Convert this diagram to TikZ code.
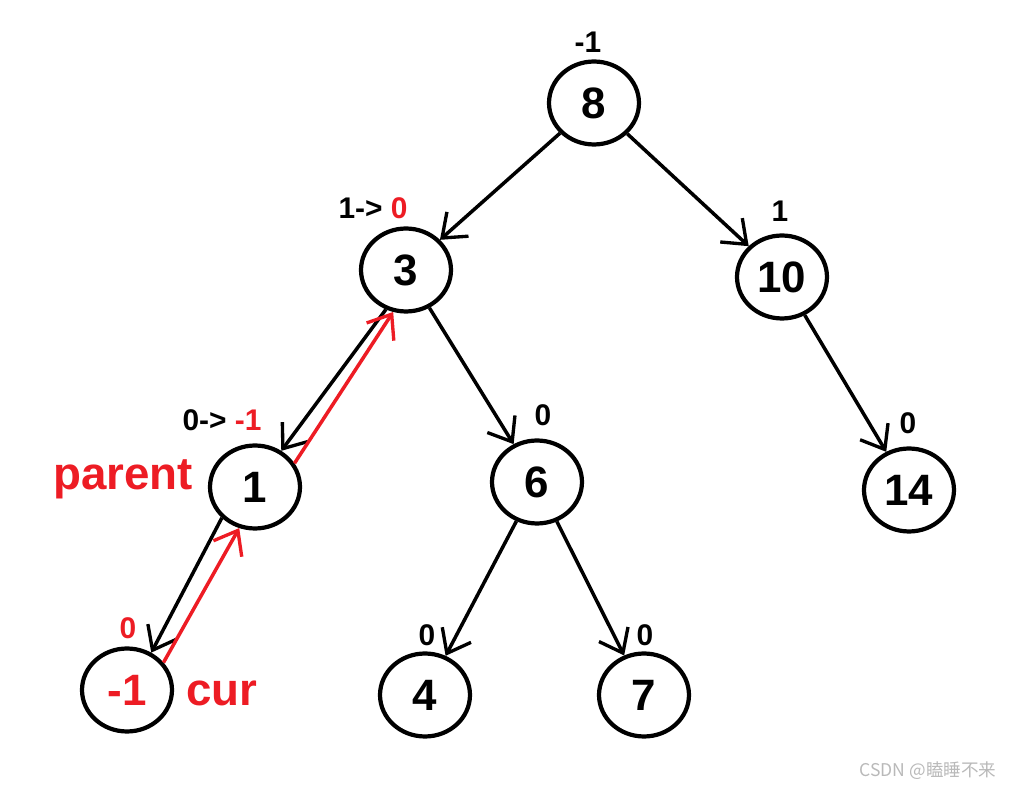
\documentclass[tikz,border=0pt]{standalone}
\usepackage{fontspec}
\setmainfont{Liberation Sans}
\newfontfamily\cjkfont{Noto Sans CJK SC}
\usetikzlibrary{arrows.meta, shapes.geometric}
\definecolor{markred}{RGB}{237,28,36}
\definecolor{wmgray}{RGB}{185,185,185}
\tikzset{
  treenode/.style={
    ellipse, draw=black, line width=2.4pt,
    minimum width=1.8cm, minimum height=1.66cm, inner sep=0pt,
    font=\fontsize{25}{25}\selectfont\bfseries
  },
  edgearrow/.style={
    -{Straight Barb[length=4.2mm, width=6.5mm, line width=1.9pt]},
    draw=black, line width=2pt
  },
  backarrow/.style={edgearrow, draw=markred},
  balancelabel/.style={font=\fontsize{17}{17}\selectfont\bfseries, inner sep=0pt},
  redword/.style={text=markred, font=\fontsize{26}{26}\selectfont\bfseries, inner sep=0pt}
}

\begin{document}
\begin{tikzpicture}[x=0.02cm, y=-0.02cm]
  \useasboundingbox (0,0) rectangle (1009,790);

  % tree nodes
  \node[treenode] (n8)  at (594,103) {8};
  \node[treenode] (n3)  at (406,270) {3};
  \node[treenode] (n10) at (782,277) {10};
  \node[treenode] (n1)  at (255,487) {1};
  \node[treenode] (n6)  at (537,482) {6};
  \node[treenode] (n14) at (909,490) {14};
  \node[treenode, text=markred] (nm1) at (127,690) {-1};
  \node[treenode] (n4)  at (425,695) {4};
  \node[treenode] (n7)  at (644,695) {7};

  % balance factors
  \node[balancelabel] (b8)  at (588,42)  {-1};
  \node[balancelabel] (b3)  at (373,208) {1-> \textcolor{markred}{0}};
  \node[balancelabel] (b10) at (780,211) {1};
  \node[balancelabel] (b1)  at (222,420) {0-> \textcolor{markred}{-1}};
  \node[balancelabel] (b6)  at (543,415) {0};
  \node[balancelabel] (b14) at (908,423) {0};
  \node[balancelabel, text=markred] (bm1) at (128,628) {0};
  \node[balancelabel] (b4)  at (427,635) {0};
  \node[balancelabel] (b7)  at (645,635) {0};

  \node[redword] (parent) at (123,479) {parent};
  \node[redword] (cur)    at (222,693) {cur};

  % edges
  \draw[edgearrow] (n8) -- (n3);
  \draw[edgearrow] (n8) -- (n10);
  \draw[edgearrow] (n3.243) -- (n1.54);
  \draw[edgearrow] (n3) -- (n6);
  \draw[edgearrow] (n10) -- (n14);
  \draw[edgearrow] (n1.223) -- (nm1.57);
  \draw[edgearrow] (n6) -- (n4);
  \draw[edgearrow] (n6) -- (n7);

  % update path back up
  \draw[backarrow] (nm1.37) -- (n1.249);
  \draw[backarrow] (n1.31) -- (n3.253);

  \node[text=wmgray, font=\cjkfont\fontsize{10}{10}\selectfont, inner sep=0pt] (mark) at (928,771) {CSDN @瞌睡不来};
\end{tikzpicture}
\end{document}
